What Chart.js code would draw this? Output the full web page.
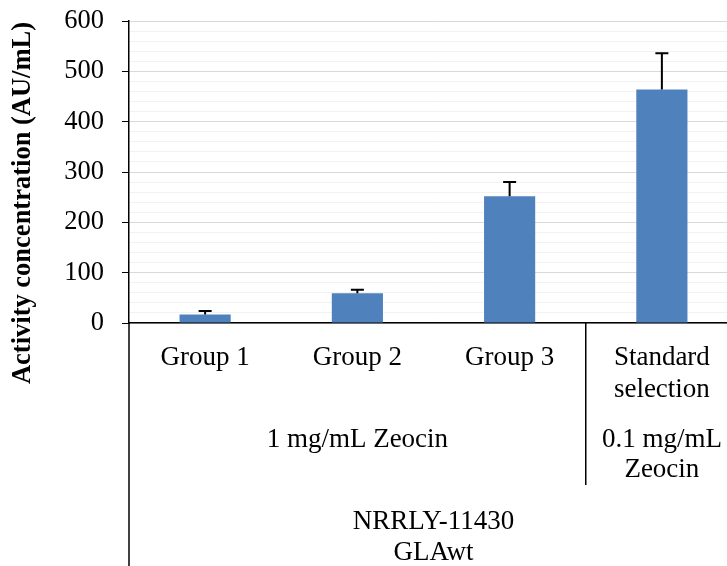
<!DOCTYPE html>
<html>
<head>
<meta charset="utf-8">
<script src="https://cdn.jsdelivr.net/npm/chart.js@4/dist/chart.umd.min.js"></script>
<style>
  body { margin: 0; background: #fff; }
  #frame { width: 727px; height: 566px; overflow: hidden; }
  #box { width: 738px; height: 566px; position: relative; }
</style>
</head>
<body>
<div id="frame"><div id="box"><canvas id="myChart"></canvas></div></div>
<script>
// chart data
const categories = [["Group 1"], ["Group 2"], ["Group 3"], ["Standard", "selection"]];
const activity = [17, 59, 252, 464];
const activityError = [7, 7, 28, 72];
const yTicks = [0, 100, 200, 300, 400, 500, 600];
const yTitle = "Activity concentration (AU/mL)";

// second and third row of the category axis: label lines, first and last category
const zeocinLabels = [["1 mg/mL Zeocin"], ["0.1 mg/mL", "Zeocin"]];
const zeocinSpans = [[0, 2], [3, 3]];
const strainLabels = [["NRRLY-11430", "GLAwt"]];
const strainSpans = [[0, 3]];

const serif = "'Liberation Serif', 'Times New Roman', serif";

// error bars, the nested category rows and the y title
const extraAxis = {
    id: "extraAxis",
    afterDraw(chart) {
        const { ctx, chartArea } = chart;
        const x = chart.scales.x;
        const y = chart.scales.y;
        const catW = (x.right - x.left) / categories.length;
        const base = chartArea.bottom;

        ctx.save();
        ctx.strokeStyle = "#000";
        ctx.lineWidth = 2;
        activity.forEach(function(v, i) {
            const px = x.getPixelForValue(i);
            const top = y.getPixelForValue(v + activityError[i]);
            ctx.beginPath();
            ctx.moveTo(px, y.getPixelForValue(v));
            ctx.lineTo(px, top);
            ctx.moveTo(px - 6.5, top);
            ctx.lineTo(px + 6.5, top);
            ctx.stroke();
        });

        // axis line continues down through the label rows
        ctx.lineWidth = 1.5;
        ctx.beginPath();
        ctx.moveTo(chartArea.left, base);
        ctx.lineTo(chartArea.left, chart.height);
        ctx.stroke();

        ctx.fillStyle = "#000";
        ctx.textAlign = "center";
        ctx.textBaseline = "alphabetic";
        ctx.font = "27px " + serif;

        function rowText(lines, cx, firstBase, gap) {
            lines.forEach(function(t, k) {
                ctx.fillText(t, cx, firstBase + k * gap);
            });
        }

        categories.forEach(function(lines, i) {
            rowText(lines, x.getPixelForValue(i), base + 41.5, 32);
        });

        zeocinSpans.forEach(function(s, j) {
            const l = x.getPixelForValue(s[0]) - catW / 2;
            const r = x.getPixelForValue(s[1]) + catW / 2;
            rowText(zeocinLabels[j], (l + r) / 2, base + 123.5, 30.5);
            if (j > 0) {
                ctx.beginPath();
                ctx.moveTo(l, base);
                ctx.lineTo(l, base + 162);
                ctx.stroke();
            }
        });

        strainSpans.forEach(function(s, j) {
            const l = x.getPixelForValue(s[0]) - catW / 2;
            const r = x.getPixelForValue(s[1]) + catW / 2;
            rowText(strainLabels[j], (l + r) / 2, base + 206, 31);
        });

        ctx.translate(23, 203);
        ctx.rotate(-Math.PI / 2);
        ctx.textBaseline = "middle";
        ctx.font = "bold 26.5px " + serif;
        ctx.fillText(yTitle, 0, 0);
        ctx.restore();
    }
};

const chart = new Chart(document.getElementById("myChart"), {
    type: "bar",
    data: {
        labels: categories,
        datasets: [{
            data: activity,
            backgroundColor: "#4f81bd",
            borderWidth: 0,
            categoryPercentage: 1,
            barPercentage: 0.336
        }]
    },
    options: {
        responsive: true,
        maintainAspectRatio: false,
        animation: false,
        layout: { padding: { top: 21, right: 0, bottom: 0, left: 0 } },
        plugins: { legend: { display: false }, tooltip: { enabled: false } },
        scales: {
            x: {
                grid: { display: false },
                border: { display: true, color: "#000", width: 1.5 },
                ticks: { display: false },
                afterFit: function(scale) { scale.height = 243; }
            },
            y: {
                min: 0,
                max: 600,
                grid: {
                    color: c => (c.tick && c.tick.value % 100 === 0 ? "#d9d9d9" : "#f2f2f2"),
                    tickColor: c => (c.tick && c.tick.value % 100 === 0 ? "#000" : "rgba(0,0,0,0)"),
                    tickLength: 7
                },
                border: { display: true, color: "#000", width: 1.5 },
                ticks: {
                    stepSize: 20,
                    maxTicksLimit: 40,
                    autoSkip: false,
                    padding: 18,
                    color: "#000",
                    font: { family: serif, size: 26.5 },
                    callback: v => (yTicks.includes(v) ? String(v) : "")
                },
                afterFit: function(scale) {
                    scale.width = 129;
                    scale.paddingTop = 0;
                    scale.paddingBottom = 0;
                }
            }
        }
    },
    plugins: [extraAxis]
});
</script>
</body>
</html>
